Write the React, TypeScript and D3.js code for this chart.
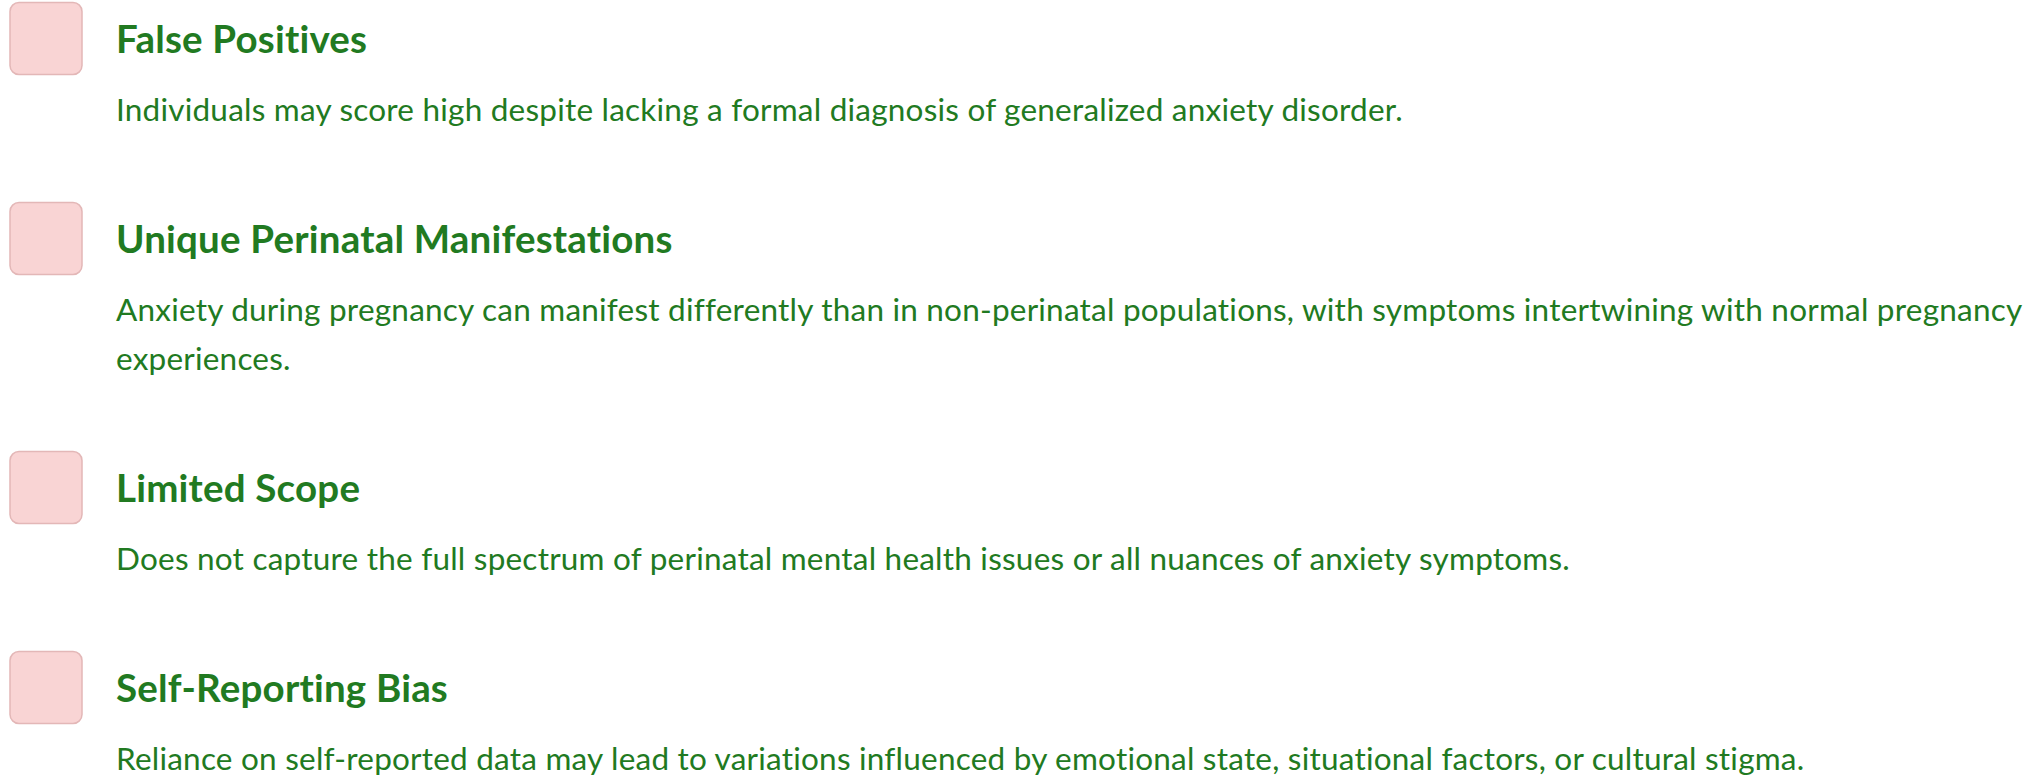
import React, { useEffect, useRef } from "react";
import * as d3 from "d3";

const titles = [
  "False Positives",
  "Unique Perinatal Manifestations",
  "Limited Scope",
  "Self-Reporting Bias",
];

const descriptions: string[][] = [
  ["Individuals may score high despite lacking a formal diagnosis of generalized anxiety disorder."],
  [
    "Anxiety during pregnancy can manifest differently than in non-perinatal populations, with symptoms intertwining with normal pregnancy",
    "experiences.",
  ],
  ["Does not capture the full spectrum of perinatal mental health issues or all nuances of anxiety symptoms."],
  ["Reliance on self-reported data may lead to variations influenced by emotional state, situational factors, or cultural stigma."],
];

const W = 2034;
const H = 777;
const GREEN = "#217a21";
const FONT = "Lato, 'Open Sans', 'Noto Sans', sans-serif";

export default function App() {
  const ref = useRef<SVGSVGElement | null>(null);

  useEffect(() => {
    const svg = d3.select(ref.current);
    svg.selectAll("*").remove();

    const itemBase = 200;
    const lineStep = 49;
    const tops: number[] = [];
    let acc = 2;
    descriptions.forEach((d) => {
      tops.push(acc);
      acc += itemBase + (d.length - 1) * lineStep;
    });

    const y = d3.scaleLinear().domain([0, 1]).range([0, 1]);

    const items = svg
      .selectAll("g.item")
      .data(titles.map((t, i) => ({ title: t, desc: descriptions[i], top: tops[i] })))
      .enter()
      .append("g")
      .attr("class", "item")
      .attr("transform", (d) => `translate(0,${y(d.top)})`);

    items
      .append("rect")
      .attr("x", 10)
      .attr("y", 0.5)
      .attr("width", 72)
      .attr("height", 72)
      .attr("rx", 9)
      .attr("fill", "#f9d4d4")
      .attr("stroke", "#e3b7b7")
      .attr("stroke-width", 1.5);

    items
      .append("text")
      .attr("x", 116)
      .attr("y", 51)
      .attr("fill", GREEN)
      .attr("font-family", FONT)
      .attr("font-weight", 700)
      .attr("font-size", 38.5)
      .attr("letter-spacing", 0.2)
      .text((d) => d.title);

    items.each(function (d) {
      const g = d3.select(this);
      d.desc.forEach((line, j) => {
        g.append("text")
          .attr("x", 116)
          .attr("y", 119 + j * lineStep)
          .attr("fill", GREEN)
          .attr("font-family", FONT)
          .attr("font-size", 31.5)
          .attr("letter-spacing", 0.22)
          .text(line);
      });
    });
  }, []);

  return (
    <svg
      ref={ref}
      width={W}
      height={H}
      style={{ position: "absolute", left: 0, top: 0, background: "#fff" }}
    />
  );
}
